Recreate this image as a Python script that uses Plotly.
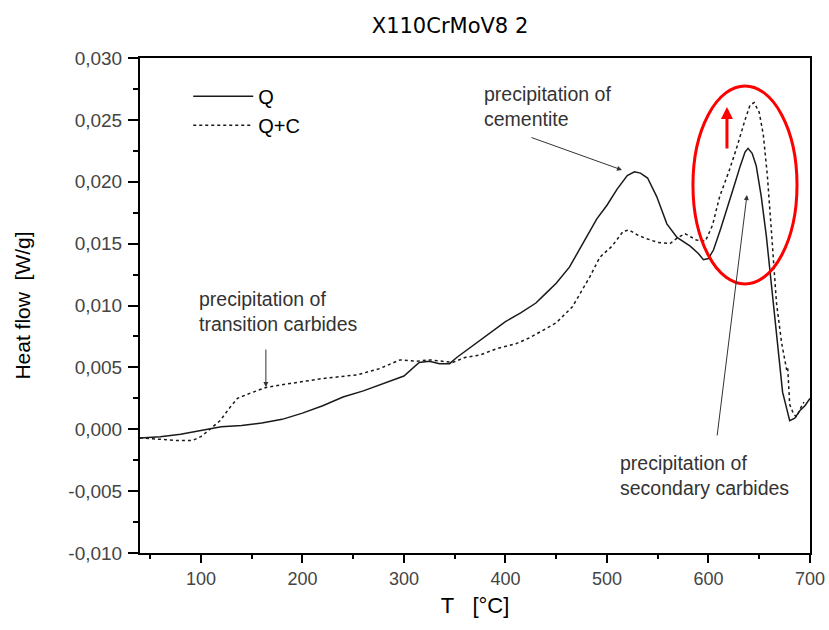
import plotly.graph_objects as go

# Q (solid)
q_T = [40, 60, 80, 100, 120, 140, 160, 180, 200, 220, 240, 260, 280, 300, 315, 325, 335, 345,
       352, 365, 375, 390, 400, 415, 430, 440, 450, 463, 472, 480, 490, 500, 510, 520, 527, 533,
       540, 549, 559, 569, 582, 590, 595, 600, 605, 612, 618, 625, 631, 636, 639, 643, 647, 652,
       657, 662, 667, 673, 680, 685, 690, 695, 700]
q_v = [-0.0007, -0.0006, -0.0004, -0.0001, 0.0002, 0.0003, 0.0005, 0.0008, 0.0013, 0.0019,
       0.0026, 0.0031, 0.0037, 0.0043, 0.0054, 0.0055, 0.0053, 0.0053, 0.0058, 0.0066, 0.0072,
       0.0081, 0.0087, 0.0094, 0.0102, 0.0110, 0.0118, 0.0131, 0.0144, 0.0156, 0.0170, 0.0181,
       0.0194, 0.0205, 0.0208, 0.0207, 0.0203, 0.0188, 0.0166, 0.0155, 0.0148, 0.0142, 0.0137,
       0.0138, 0.0145, 0.0162, 0.0177, 0.0196, 0.0212, 0.0224, 0.0227, 0.0223, 0.0213, 0.0188,
       0.0156, 0.0115, 0.0075, 0.0030, 0.0007, 0.0009, 0.0015, 0.0019, 0.0025]

# Q+C (dotted)
qc_T = [40, 60, 75, 92, 100, 106, 119, 128, 136, 148, 165, 188, 220, 254, 276, 296, 312, 326,
        336, 348, 360, 375, 391, 410, 424, 440, 450, 466, 475, 483, 493, 505, 516, 522, 530, 539,
        550, 562, 570, 577, 588, 597, 604, 611, 620, 628, 636, 641, 645, 650, 654, 658, 662, 667,
        672, 677, 678, 680, 684, 687, 690, 694]
qc_v = [-0.0007, -0.0008, -0.0009, -0.0009, -0.0006, -0.0002, 0.0007, 0.0017, 0.0025, 0.0029,
        0.0034, 0.0037, 0.0041, 0.0044, 0.0049, 0.0056, 0.0055, 0.0056, 0.0055, 0.0054, 0.0058,
        0.0060, 0.0065, 0.0069, 0.0074, 0.0081, 0.0086, 0.0099, 0.0112, 0.0123, 0.0139, 0.0148,
        0.0160, 0.0161, 0.0157, 0.0154, 0.0151, 0.0150, 0.0155, 0.0158, 0.0153, 0.0152, 0.0165,
        0.0188, 0.0208, 0.0228, 0.0250, 0.0262, 0.0264, 0.0256, 0.0238, 0.0205, 0.0160, 0.0102,
        0.0070, 0.0048, 0.0050, 0.0020, 0.0012, 0.0010, 0.0016, 0.0022]

x_ticks = [100, 200, 300, 400, 500, 600, 700]
y_ticks = [-0.010, -0.005, 0.000, 0.005, 0.010, 0.015, 0.020, 0.025, 0.030]
y_tick_labels = ["-0,010", "-0,005", "0,000", "0,005", "0,010", "0,015", "0,020", "0,025", "0,030"]

FONT = "Liberation Sans, Arial, sans-serif"

fig = go.Figure()
fig.add_trace(go.Scatter(x=q_T, y=q_v, mode="lines", name="Q",
                         line=dict(color="#1a1a1a", width=1.5)))
fig.add_trace(go.Scatter(x=qc_T, y=qc_v, mode="lines", name="Q+C",
                         line=dict(color="#1a1a1a", width=1.5, dash="3px,3px")))

ann_font = dict(family=FONT, size=19.5, color="#333333")
annotations = [
    dict(x=376.9, y=0.02608, xref="x", yref="y", text="precipitation of<br>cementite",
         showarrow=False, xanchor="left", yanchor="middle", align="left", font=ann_font),
    dict(x=96.1, y=0.009515, xref="x", yref="y", text="precipitation of<br>transition carbides",
         showarrow=False, xanchor="left", yanchor="middle", align="left", font=ann_font),
    dict(x=510.8, y=-0.003737, xref="x", yref="y", text="precipitation of<br>secondary carbides",
         showarrow=False, xanchor="left", yanchor="middle", align="left", font=ann_font),
    dict(x=514.8, y=0.02095, xref="x", yref="y", ax=-92, ay=-33, text="", showarrow=True,
         arrowhead=2, arrowsize=1, arrowwidth=1, arrowcolor="#333333"),
    dict(x=164, y=0.00341, xref="x", yref="y", ax=0, ay=-39, text="", showarrow=True,
         arrowhead=2, arrowsize=1, arrowwidth=1, arrowcolor="#333333"),
    dict(x=637.9, y=0.01893, xref="x", yref="y", ax=-30, ay=242, text="", showarrow=True,
         arrowhead=2, arrowsize=1, arrowwidth=1, arrowcolor="#333333"),
    dict(x=618.2, y=0.02604, xref="x", yref="y", ax=0, ay=43, text="", showarrow=True,
         arrowhead=2, arrowsize=0.8, arrowwidth=3, arrowcolor="#ff0000"),
]

fig.add_shape(type="circle", xref="x", yref="y", x0=584.7, x1=687.2, y0=0.01174, y1=0.02774,
              line=dict(color="#ff0000", width=3))

W, H = 829, 630
fig.update_layout(
    width=W, height=H,
    margin=dict(l=140, r=19, t=58, b=77, autoexpand=False),
    paper_bgcolor="white", plot_bgcolor="white",
    font=dict(family=FONT, color="#000000"),
    title=dict(text="X110CrMoV8 2", x=450 / W, xanchor="center",
               y=1 - 26 / H, yanchor="middle", xref="container", yref="container",
               font=dict(family="DejaVu Sans, sans-serif", size=21, color="#000000")),
    showlegend=True,
    legend=dict(x=0.072, y=0.962, xanchor="left", yanchor="top", bgcolor="rgba(0,0,0,0)",
                font=dict(family=FONT, size=20, color="#000000"), itemwidth=60,
                tracegroupgap=0),
    annotations=annotations,
)

fig.update_xaxes(range=[40, 700], tickvals=x_ticks, showgrid=False, zeroline=False, automargin=False,
                 showline=True, linecolor="black", linewidth=2, mirror=True,
                 ticks="outside", ticklen=8, tickwidth=2, tickcolor="black",
                 minor=dict(dtick=50, tick0=0, ticks="outside", ticklen=4, tickwidth=1.5, tickcolor="black"),
                 tickfont=dict(family=FONT, size=18, color="#444444"), ticklabelstandoff=0,
                 title=dict(text="T\u00a0\u00a0\u00a0[°C]", font=dict(family=FONT, size=22, color="#000000"), standoff=10))
fig.update_yaxes(range=[-0.010, 0.030], tickvals=y_ticks, ticktext=y_tick_labels, showgrid=False,
                 zeroline=False, automargin=False, showline=True, linecolor="black", linewidth=2, mirror=True,
                 ticks="outside", ticklen=10, tickwidth=2, tickcolor="black",
                 minor=dict(dtick=0.0025, tick0=0, ticks="outside", ticklen=5, tickwidth=1.5, tickcolor="black"),
                 tickfont=dict(family=FONT, size=19, color="#444444"), ticklabelstandoff=2,
                 title=dict(text="Heat flow\u00a0\u00a0[W/g]", font=dict(family=FONT, size=21, color="#000000"), standoff=32))

# remove the browser's default 8px page margin so the 829x630 figure fills the window exactly
fig.write_html("out.html", config=dict(displayModeBar=False),
               post_script="document.body.style.margin='0';document.body.style.overflow='hidden';")
